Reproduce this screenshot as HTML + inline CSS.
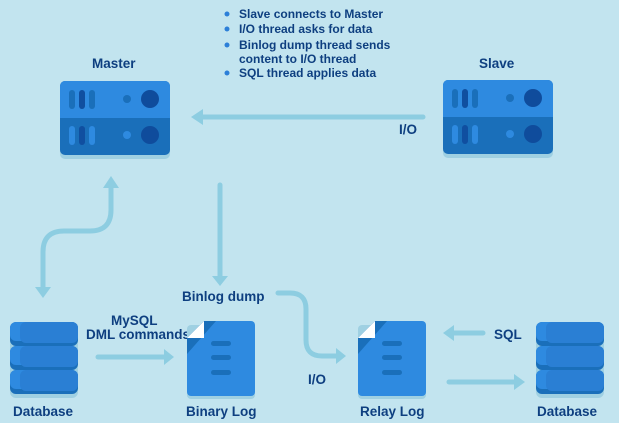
<!DOCTYPE html>
<html><head><meta charset="utf-8"><style>
html,body{margin:0;padding:0;background:#c2e4ef;}
svg{display:block}
text{font-family:"Liberation Sans",sans-serif;font-weight:bold;fill:#0e3f80;}
</style></head><body>
<svg width="619" height="423" viewBox="0 0 619 423" xmlns="http://www.w3.org/2000/svg">
<rect width="619" height="423" fill="#c2e4ef"/>
<g fill="#2c7fd8">
<circle cx="227" cy="14" r="2.5"/><circle cx="227" cy="29" r="2.5"/><circle cx="227" cy="45" r="2.5"/><circle cx="227" cy="73" r="2.5"/>
</g>
<g font-size="12">
<text x="239" y="18">Slave connects to Master</text>
<text x="239" y="33">I/O thread asks for data</text>
<text x="239" y="49">Binlog dump thread sends</text>
<text x="239" y="63">content to I/O thread</text>
<text x="239" y="77">SQL thread applies data</text>
</g>
<g font-size="13.5">
<text x="92" y="68">Master</text>
<text x="479" y="68">Slave</text>
<text x="399" y="134">I/O</text>
<text x="111" y="325">MySQL</text>
<text x="86" y="339">DML commands</text>
<text x="182" y="301">Binlog dump</text>
<text x="308" y="384">I/O</text>
<text x="494" y="339">SQL</text>
<text x="13" y="416">Database</text>
<text x="186" y="416">Binary Log</text>
<text x="360" y="416">Relay Log</text>
<text x="537" y="416">Database</text>
</g>
<g id="srv">
<rect x="60" y="85" width="110" height="74" rx="5" fill="#9fd0e2"/>
<rect x="60" y="81" width="110" height="74" rx="5" fill="#1a6fba"/>
<path d="M60 118V86a5 5 0 0 1 5-5h100a5 5 0 0 1 5 5v32z" fill="#2e8ae0"/>
<rect x="69" y="90" width="6" height="19" rx="3" fill="#1a6fba"/>
<rect x="79" y="90" width="6" height="19" rx="3" fill="#104fa0"/>
<rect x="89" y="90" width="6" height="19" rx="3" fill="#1a6fba"/>
<circle cx="127" cy="99" r="4" fill="#1a6fba"/>
<circle cx="150" cy="99" r="9" fill="#0f4c9c"/>
<rect x="69" y="126" width="6" height="19" rx="3" fill="#2e8ae0"/>
<rect x="79" y="126" width="6" height="19" rx="3" fill="#104fa0"/>
<rect x="89" y="126" width="6" height="19" rx="3" fill="#2e8ae0"/>
<circle cx="127" cy="135" r="4" fill="#2e8ae0"/>
<circle cx="150" cy="135" r="9" fill="#0f4c9c"/>
</g>
<use href="#srv" transform="translate(383,-1)"/>
<g stroke="#8dcde1" stroke-width="5" fill="none" stroke-linecap="round">
<path d="M423 117H200"/>
<path d="M220 185V276"/>
<path d="M111 185V210q0 21-21 21H64q-21 0-21 21V290"/>
<path d="M98 357H165"/>
<path d="M278 293h12q16 0 16 16v31q0 16 16 16h16"/>
<path d="M483 333H452"/>
<path d="M449 382H515"/>
</g>
<g fill="#8dcde1">
<path d="M191 117l12-8v16z"/>
<path d="M212 276h16l-8 10z"/>
<path d="M103 188h16l-8-12z"/>
<path d="M35 287h16l-8 11z"/>
<path d="M164 349v16l10-8z"/>
<path d="M336 348v16l10-8z"/>
<path d="M443 333l11-8v16z"/>
<path d="M514 374v16l11-8z"/>
</g>
<g id="doc">
<rect x="187" y="325" width="68" height="74" rx="4" fill="#9fd0e2"/>
<path d="M204 321H251a4 4 0 0 1 4 4V392a4 4 0 0 1-4 4H191a4 4 0 0 1-4-4V338z" fill="#2e8ae0"/>
<path d="M204 321H216L187 354V338z" fill="#1a6fba"/>
<path d="M187 338L204 321V338z" fill="#ffffff"/>
<rect x="211" y="341" width="20" height="5" rx="2.5" fill="#1a6fba"/>
<rect x="211" y="355" width="20" height="5" rx="2.5" fill="#1a6fba"/>
<rect x="211" y="370" width="20" height="5" rx="2.5" fill="#1a6fba"/>
</g>
<use href="#doc" transform="translate(171,0)"/>
<g id="db">
<rect x="10" y="326" width="68" height="72" rx="6" fill="#9fd0e2"/>
<g id="slab">
<rect x="10" y="322" width="68" height="24" rx="6" fill="#1a6fba"/>
<rect x="10" y="322" width="68" height="19" rx="6" fill="#2e8ae0"/>
<rect x="20" y="322" width="58" height="21" rx="6" fill="#2a7fd4"/>
</g>
<use href="#slab" transform="translate(0,24)"/>
<use href="#slab" transform="translate(0,48)"/>
</g>
<use href="#db" transform="translate(526,0)"/>
</svg>
</body></html>
